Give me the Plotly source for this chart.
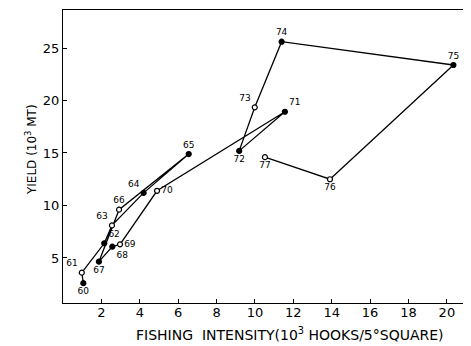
import plotly.graph_objects as go

# Data
years = ["60", "61", "62", "63", "64", "65", "66", "67", "68", "69",
         "70", "71", "72", "73", "74", "75", "76", "77"]
intensity = [1.06, 0.98, 2.15, 2.55, 4.20, 6.55, 2.92, 1.87, 2.57, 2.97,
             4.90, 11.56, 9.18, 9.99, 11.39, 20.34, 13.91, 10.52]
yield_kmt = [2.6, 3.6, 6.4, 8.1, 11.2, 14.9, 9.6, 4.65, 6.08, 6.3,
             11.4, 18.93, 15.2, 19.35, 25.6, 23.38, 12.5, 14.6]
filled = [True, False, True, False, True, True, False, True, True, False,
          False, True, True, False, True, True, False, False]
x_ticks = [2, 4, 6, 8, 10, 12, 14, 16, 18, 20]
y_ticks = [5, 10, 15, 20, 25]

# Label placement (style)
label_pos = {
    "60": "bottom center", "61": "top left", "62": "top right",
    "63": "top left", "64": "top left", "65": "top center",
    "66": "top center", "67": "bottom center", "68": "bottom right",
    "69": "middle right", "70": "middle right", "71": "top right",
    "72": "bottom center", "73": "top left", "74": "top center",
    "75": "top center", "76": "bottom center", "77": "bottom center",
}

FONT = "DejaVu Sans"

fig = go.Figure()
fig.add_trace(go.Scatter(
    x=intensity, y=yield_kmt, mode="lines",
    line=dict(color="black", width=1.3),
    hoverinfo="skip", showlegend=False, cliponaxis=False,
))
fig.add_trace(go.Scatter(
    x=intensity, y=yield_kmt, mode="markers+text",
    text=years,
    textposition=[label_pos[y] for y in years],
    textfont=dict(family=FONT, size=9, color="black"),
    marker=dict(size=5, symbol="circle",
                color=["black" if f else "white" for f in filled],
                line=dict(color="black", width=1.2)),
    showlegend=False, cliponaxis=False,
))

axis_common = dict(
    showline=True, linecolor="black", linewidth=1.2, mirror=True,
    showgrid=False, zeroline=False, ticks="inside", ticklen=4,
    tickcolor="black", tickfont=dict(family=FONT, size=13, color="black"),
)
fig.update_xaxes(range=[0, 21.1], tickvals=x_ticks, ticklabelstandoff=-3,
                 **axis_common)
fig.update_yaxes(range=[0.71, 28.62], tickvals=y_ticks, **axis_common)

fig.add_annotation(
    text="FISHING  INTENSITY(10<sup>3</sup> HOOKS/5°SQUARE)",
    xref="paper", yref="paper", x=0.56, y=-0.105,
    xanchor="center", yanchor="middle", showarrow=False,
    font=dict(family=FONT, size=14, color="black"),
)
fig.add_annotation(
    text="YIELD (10<sup>3</sup> MT)",
    xref="paper", yref="paper", x=-0.079, y=0.522,
    xanchor="center", yanchor="middle", showarrow=False, textangle=-90,
    font=dict(family=FONT, size=12, color="black"),
)

# The page places the figure 8 px in from the top-left corner
fig.update_layout(
    width=463, height=338,
    margin=dict(l=55, r=3, t=2, b=43),
    paper_bgcolor="white", plot_bgcolor="white",
)
fig.write_html("out.html")
